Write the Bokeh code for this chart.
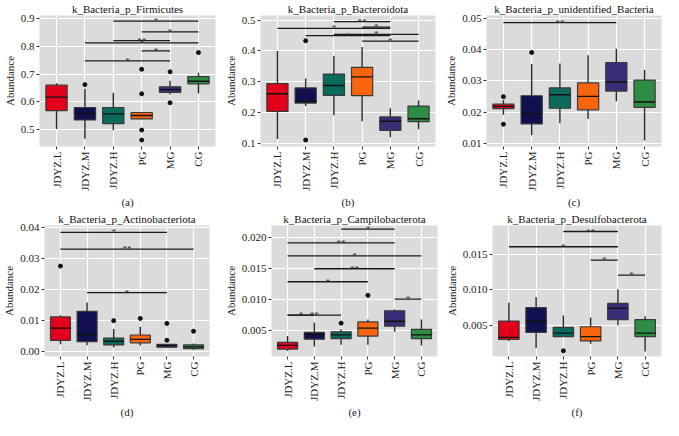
import math
from bokeh.plotting import figure
from bokeh.layouts import column, row
from bokeh.models import Range1d, FixedTicker, PrintfTickFormatter
from bokeh.embed import file_html
from bokeh.resources import INLINE
from bokeh.core.properties import value

groups = ["JDYZ.L", "JDYZ.M", "JDYZ.H", "PG", "MG", "CG"]
colors = ["#E2001A", "#10104F", "#0A6A5C", "#F9650F", "#3B2C78", "#2E8C45"]

# (a) Firmicutes
a_title = "k_Bacteria_p_Firmicutes"
a_lo  = [0.503, 0.468, 0.498, 0.537, 0.627, 0.630]
a_q1  = [0.569, 0.535, 0.522, 0.539, 0.634, 0.665]
a_med = [0.617, 0.559, 0.557, 0.551, 0.644, 0.674]
a_q3  = [0.660, 0.580, 0.580, 0.562, 0.654, 0.691]
a_hi  = [0.667, 0.647, 0.633, 0.564, 0.676, 0.705]
a_out_g = [1, 3, 3, 3, 3, 4, 4, 5]
a_out_v = [0.662, 0.717, 0.629, 0.499, 0.463, 0.708, 0.597, 0.777]
a_sig_from = [2, 3, 1, 2, 3, 1]
a_sig_to   = [5, 5, 5, 4, 4, 4]
a_sig_y    = [0.890, 0.851, 0.812, 0.820, 0.783, 0.747]
a_sig_lab  = ["*", "*", "*", "**", "*", "*"]

# (b) Bacteroidota
b_title = "k_Bacteria_p_Bacteroidota"
b_lo  = [0.114, 0.221, 0.191, 0.172, 0.120, 0.146]
b_q1  = [0.204, 0.231, 0.256, 0.255, 0.142, 0.171]
b_med = [0.261, 0.237, 0.288, 0.316, 0.172, 0.180]
b_q3  = [0.294, 0.280, 0.325, 0.347, 0.186, 0.221]
b_hi  = [0.400, 0.311, 0.384, 0.413, 0.214, 0.239]
b_out_g = [1, 1]
b_out_v = [0.433, 0.111]
b_sig_from = [2, 0, 3, 1, 2, 3]
b_sig_to   = [4, 4, 4, 4, 5, 5]
b_sig_y    = [0.495, 0.473, 0.477, 0.450, 0.454, 0.432]
b_sig_lab  = ["**", "*", "*", "*", "*", "*"]

# (c) unidentified_Bacteria
c_title = "k_Bacteria_p_unidentified_Bacteria"
c_lo  = [0.0191, 0.0126, 0.0164, 0.0178, 0.0234, 0.0109]
c_q1  = [0.0211, 0.0162, 0.0212, 0.0207, 0.0267, 0.0215]
c_med = [0.0218, 0.0195, 0.0255, 0.0250, 0.0296, 0.0232]
c_q3  = [0.0225, 0.0252, 0.0277, 0.0293, 0.0358, 0.0302]
c_hi  = [0.0238, 0.0353, 0.0355, 0.0381, 0.0402, 0.0334]
c_out_g = [0, 0, 1]
c_out_v = [0.0249, 0.0161, 0.0390]
c_sig_from = [0]
c_sig_to   = [4]
c_sig_y    = [0.0485]
c_sig_lab  = ["**"]

# (d) Actinobacteriota
d_title = "k_Bacteria_p_Actinobacteriota"
d_lo  = [0.0024, 0.0021, 0.0014, 0.0020, 0.0012, 0.0006]
d_q1  = [0.0037, 0.0033, 0.0022, 0.0029, 0.0015, 0.0010]
d_med = [0.0076, 0.0054, 0.0034, 0.0040, 0.0020, 0.0016]
d_q3  = [0.0112, 0.0130, 0.0044, 0.0054, 0.0024, 0.0022]
d_hi  = [0.0117, 0.0158, 0.0073, 0.0080, 0.0025, 0.0027]
d_out_g = [0, 2, 3, 4, 4, 5]
d_out_v = [0.0275, 0.0100, 0.0107, 0.0091, 0.0037, 0.0066]
d_sig_from = [0, 0, 1]
d_sig_to   = [4, 5, 4]
d_sig_y    = [0.0383, 0.0329, 0.0190]
d_sig_lab  = ["*", "**", "*"]

# (e) Campilobacterota
e_title = "k_Bacteria_p_Campilobacterota"
e_lo  = [0.0017, 0.0024, 0.0027, 0.0027, 0.0048, 0.0026]
e_q1  = [0.0020, 0.0036, 0.0037, 0.0041, 0.0057, 0.0037]
e_med = [0.0026, 0.0044, 0.0043, 0.0054, 0.0065, 0.0043]
e_q3  = [0.0031, 0.0047, 0.0048, 0.0064, 0.0082, 0.0052]
e_hi  = [0.0041, 0.0063, 0.0052, 0.0068, 0.0084, 0.0068]
e_out_g = [2, 3]
e_out_v = [0.0062, 0.0107]
e_sig_from = [2, 0, 0, 1, 0, 4, 0, 0]
e_sig_to   = [4, 4, 5, 4, 3, 5, 1, 2]
e_sig_y    = [0.0214, 0.0192, 0.0171, 0.0150, 0.0129, 0.0101, 0.0075, 0.0075]
e_sig_lab  = ["*", "**", "*", "**", "*", "*", "*", "**"]

# (f) Desulfobacterota
f_title = "k_Bacteria_p_Desulfobacterota"
f_lo  = [0.0028, 0.0018, 0.0034, 0.0024, 0.0050, 0.0013]
f_q1  = [0.0030, 0.0040, 0.0034, 0.0028, 0.0058, 0.0034]
f_med = [0.0033, 0.0056, 0.0039, 0.0034, 0.0074, 0.0039]
f_q3  = [0.0056, 0.0075, 0.0047, 0.0048, 0.0081, 0.0058]
f_hi  = [0.0082, 0.0090, 0.0064, 0.0061, 0.0101, 0.0063]
f_out_g = [2]
f_out_v = [0.0014]
f_sig_from = [2, 0, 3, 4]
f_sig_to   = [4, 4, 4, 5]
f_sig_y    = [0.01825, 0.0161, 0.0142, 0.0121]
f_sig_lab  = ["**", "*", "*", "*"]

FONT = "Liberation Serif"
BOX_W = 0.75


def panel(title, letter, lo, q1, med, q3, hi, out_g, out_v, s_from, s_to, s_y, s_lab,
          yr, yticks, yfmt, w, h, left, right, top):
    xs = list(range(1, len(groups) + 1))
    p = figure(width=w, height=h, output_backend="svg", toolbar_location=None,
               x_range=Range1d(0.4, 6.6), y_range=Range1d(*yr),
               min_border_left=left, min_border_right=right, min_border_top=top,
               min_border_bottom=0, title=title)
    p.background_fill_color = "#DBDBDB"
    p.border_fill_color = "white"
    p.outline_line_color = None
    p.title.align = "center"
    p.title.text_font = FONT
    p.title.text_font_style = "normal"
    p.title.text_font_size = "11px"
    p.title.text_color = "#111111"
    p.title.standoff = 1
    # grid
    p.xgrid.ticker = FixedTicker(ticks=xs)
    p.ygrid.ticker = FixedTicker(ticks=yticks)
    for g in (p.xgrid, p.ygrid):
        g.grid_line_color = "white"
        g.grid_line_width = 1.2
    # axes
    p.xaxis.ticker = FixedTicker(ticks=xs)
    p.xaxis.major_label_overrides = {x: g for x, g in zip(xs, groups)}
    p.xaxis.major_label_orientation = math.pi / 2
    p.xaxis.axis_label = letter
    p.yaxis.ticker = FixedTicker(ticks=yticks)
    p.yaxis.formatter = PrintfTickFormatter(format=yfmt)
    p.yaxis.axis_label = "Abundance"
    for ax in (p.xaxis, p.yaxis):
        ax.axis_line_color = None
        ax.major_tick_line_color = "#333333"
        ax.major_tick_in = 0
        ax.major_tick_out = 3
        ax.minor_tick_line_color = None
        ax.major_label_text_font = FONT
        ax.major_label_text_font_size = "11px"
        ax.major_label_text_color = "#1a1a1a"
        ax.major_label_standoff = 2
        ax.axis_label_text_font = FONT
        ax.axis_label_text_font_style = "normal"
        ax.axis_label_text_font_size = "11px"
        ax.axis_label_text_color = "#1a1a1a"
        ax.axis_label_standoff = 2
    # whiskers
    p.segment(x0=xs, y0=lo, x1=xs, y1=hi, line_color="#2a2a2a", line_width=1.4)
    # boxes
    p.vbar(x=xs, bottom=q1, top=q3, width=BOX_W, fill_color=colors,
           line_color="#3a3a3a", line_width=1.2)
    # medians
    p.segment(x0=[x - BOX_W / 2 for x in xs], y0=med, x1=[x + BOX_W / 2 for x in xs], y1=med,
              line_color="#111111", line_width=1.4)
    # outliers
    p.scatter(x=[xs[g] for g in out_g], y=out_v, size=4, color="#111111")
    # significance bars
    sx0 = [xs[i] for i in s_from]
    sx1 = [xs[j] for j in s_to]
    p.segment(x0=sx0, y0=s_y, x1=sx1, y1=s_y, line_color="#1a1a1a", line_width=1.3)
    p.text(x=[(a + b) / 2 for a, b in zip(sx0, sx1)], y=s_y, text=s_lab,
           text_font=value(FONT), text_font_size="9px", text_color="#333333",
           text_align="center", text_baseline="middle")
    return p


H = 210
pa = panel(a_title, "(a)", a_lo, a_q1, a_med, a_q3, a_hi, a_out_g, a_out_v,
           a_sig_from, a_sig_to, a_sig_y, a_sig_lab, (0.44, 0.91),
           [0.5, 0.6, 0.7, 0.8, 0.9], "%.1f", 221, H, 27, 6, 2)
pb = panel(b_title, "(b)", b_lo, b_q1, b_med, b_q3, b_hi, b_out_g, b_out_v,
           b_sig_from, b_sig_to, b_sig_y, b_sig_lab, (0.09, 0.515),
           [0.1, 0.2, 0.3, 0.4, 0.5], "%.1f", 221, H, 30, 7, 2)
pc = panel(c_title, "(c)", c_lo, c_q1, c_med, c_q3, c_hi, c_out_g, c_out_v,
           c_sig_from, c_sig_to, c_sig_y, c_sig_lab, (0.009, 0.0508),
           [0.01, 0.02, 0.03, 0.04, 0.05], "%.2f", 221, H, 40, 2, 2)
pd_ = panel(d_title, "(d)", d_lo, d_q1, d_med, d_q3, d_hi, d_out_g, d_out_v,
            d_sig_from, d_sig_to, d_sig_y, d_sig_lab, (-0.0015, 0.0405),
            [0.0, 0.01, 0.02, 0.03, 0.04], "%.2f", 221, H, 27, 12, 2)
pe = panel(e_title, "(e)", e_lo, e_q1, e_med, e_q3, e_hi, e_out_g, e_out_v,
           e_sig_from, e_sig_to, e_sig_y, e_sig_lab, (0.0008, 0.022),
           [0.005, 0.010, 0.015, 0.020], "%.3f", 221, H, 43, 5, 2)
pf = panel(f_title, "(f)", f_lo, f_q1, f_med, f_q3, f_hi, f_out_g, f_out_v,
           f_sig_from, f_sig_to, f_sig_y, f_sig_lab, (0.0006, 0.0191),
           [0.005, 0.010, 0.015], "%.3f", 221, H, 49, 2, 2)

layout = column(row(pa, pb, pc), row(pd_, pe, pf))

with open("out.html", "w") as fh:
    fh.write(file_html(layout, INLINE))
